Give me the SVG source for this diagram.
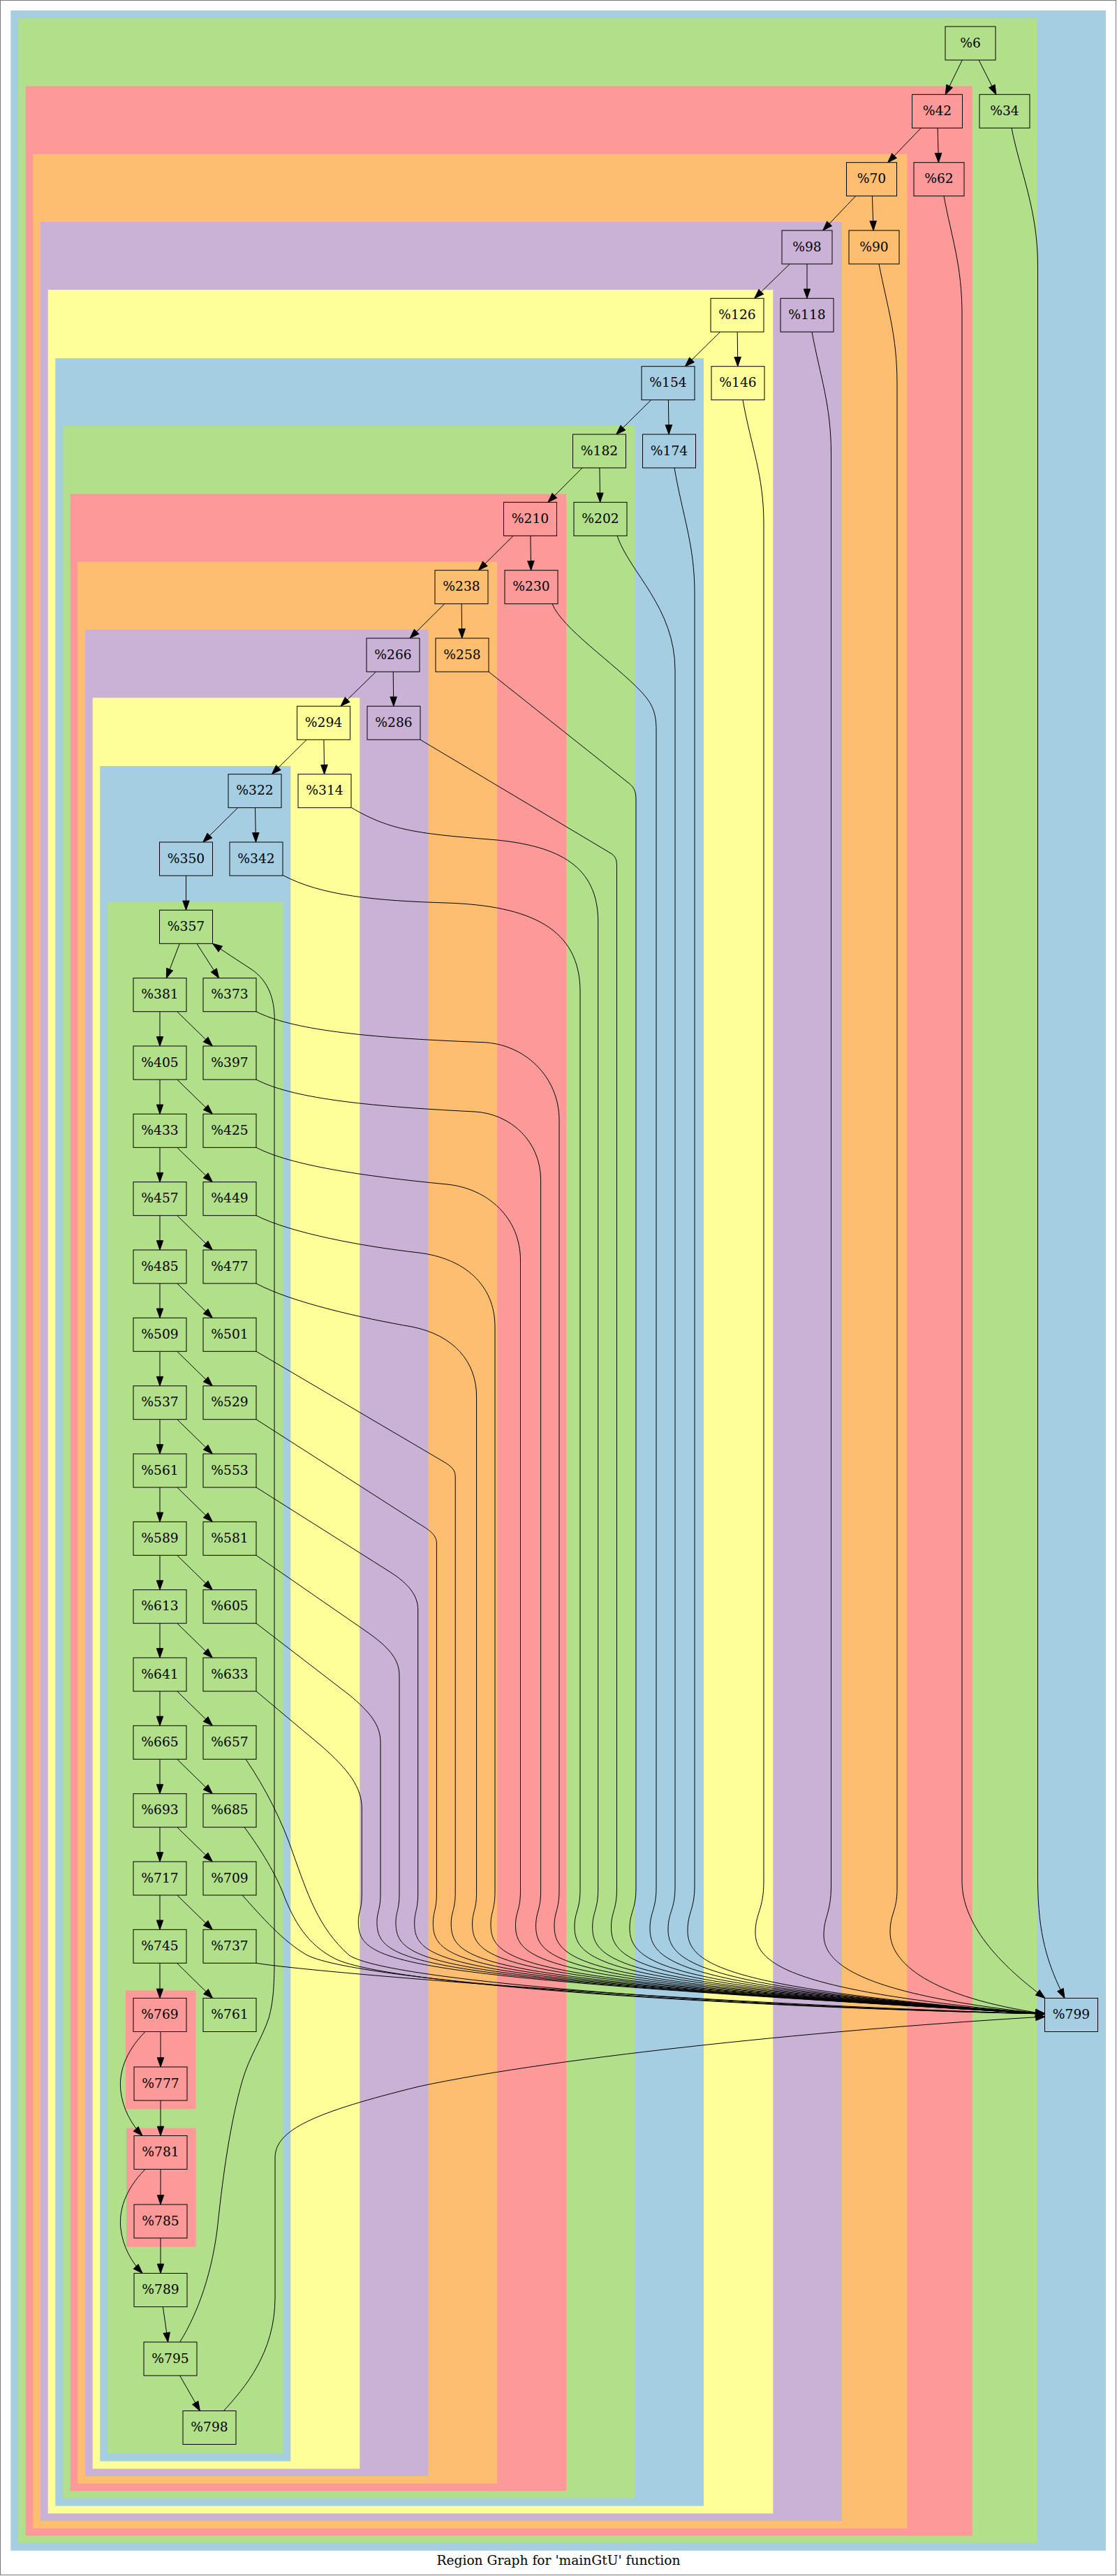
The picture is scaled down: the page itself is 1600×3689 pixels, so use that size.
<svg xmlns="http://www.w3.org/2000/svg" width="1600" height="3689" viewBox="0 0 1600 3689">
<defs>
<marker id="arr" markerUnits="userSpaceOnUse" markerWidth="16" markerHeight="12" viewBox="-1 -1 16 12" refX="13.33" refY="4.67" orient="auto">
<path d="M0,0 L13.33,4.67 L0,9.33 Z" fill="#000" stroke="#000" stroke-width="1"/>
</marker>
<style>
.cb{fill:#a6cee3}.cg{fill:#b2df8a}.cr{fill:#fb9a99}.co{fill:#fdbf6f}.cp{fill:#cab2d6}.cy{fill:#ffff99}
.n rect{stroke:#000;stroke-width:1}
.n text{font-family:"DejaVu Serif","Liberation Serif",serif;font-size:18.67px;text-anchor:middle;fill:#000}
#edges path{fill:none;stroke:#000;stroke-width:1;marker-end:url(#arr)}
.title{font-family:"DejaVu Serif","Liberation Serif",serif;font-size:18.67px;text-anchor:middle;fill:#000}
</style>
</defs>
<rect x="0" y="0" width="1600" height="3689" fill="#fff"/>
<rect x="0.5" y="0.5" width="1598" height="3687" fill="none" stroke="#777" stroke-width="1"/>
<g id="clusters">
<rect class="cb" x="15.3" y="15" width="1568.7" height="3637.7"/>
<rect class="cg" x="26" y="26" width="1460" height="3616"/>
<rect class="cr" x="36.7" y="123.3" width="1356" height="3508.1"/>
<rect class="co" x="47.3" y="220.7" width="1252" height="3400"/>
<rect class="cp" x="58" y="318" width="1148" height="3292"/>
<rect class="cy" x="68.7" y="415" width="1038.6" height="3184.4"/>
<rect class="cb" x="79.3" y="513" width="928.7" height="3075.7"/>
<rect class="cg" x="90" y="610" width="819.2" height="2968"/>
<rect class="cr" x="100.7" y="707.3" width="710.3" height="2860.1"/>
<rect class="co" x="111.3" y="804.7" width="600.9" height="2752"/>
<rect class="cp" x="122" y="901.7" width="491.5" height="2644.3"/>
<rect class="cy" x="132.7" y="999.3" width="382.6" height="2536.1"/>
<rect class="cb" x="143.3" y="1097" width="273" height="2427.7"/>
<rect class="cg" x="154" y="1291.5" width="251.6" height="2222.5"/>
<rect class="cr" x="180" y="2850.5" width="100.5" height="170"/>
<rect class="cr" x="181" y="3047.6" width="99.6" height="170"/>
</g>
<g id="edges">
<path d="M1378.3,86 L1354.2,135.3"/>
<path d="M1402.1,86 L1426.9,135.3"/>
<path d="M1319.3,183.3 L1271.7,232.7"/>
<path d="M1343.1,183.3 L1344.4,232.7"/>
<path d="M1225.7,280.7 L1178.8,330"/>
<path d="M1249.4,280.7 L1251.1,330"/>
<path d="M1131.3,378 L1080.7,427.3"/>
<path d="M1156,378 L1156,427.3"/>
<path d="M1031.6,475.3 L981.4,524.7"/>
<path d="M1056.2,475.3 L1056.8,524.7"/>
<path d="M932.7,572.7 L882.8,622"/>
<path d="M957.4,572.7 L958.1,622"/>
<path d="M834.1,670 L784.9,719.3"/>
<path d="M858.9,670 L859.6,719.3"/>
<path d="M735.2,767.3 L685.3,816.7"/>
<path d="M759.9,767.3 L760.6,816.7"/>
<path d="M636.8,864.7 L587.2,914"/>
<path d="M661.2,864.7 L661.8,914"/>
<path d="M538.5,962 L488,1011.3"/>
<path d="M563.2,962 L563.8,1011.3"/>
<path d="M439.2,1059.3 L389.3,1108.7"/>
<path d="M463.9,1059.3 L464.6,1108.7"/>
<path d="M340.7,1156.7 L290.8,1206"/>
<path d="M365.5,1156.7 L366.5,1206"/>
<path d="M266.5,1254 L266.5,1303.3"/>
<path d="M257.3,1351.3 L238.3,1400.7"/>
<path d="M281.9,1351.3 L313.6,1400.7"/>
<path d="M229,1448.7 L229,1498"/><path d="M253.7,1448.7 L304.3,1498"/>
<path d="M229,1546 L229,1595.3"/><path d="M253.7,1546 L304.3,1595.3"/>
<path d="M229,1643.3 L229,1692.7"/><path d="M253.7,1643.3 L304.3,1692.7"/>
<path d="M229,1740.7 L229,1790"/><path d="M253.7,1740.7 L304.3,1790"/>
<path d="M229,1838 L229,1887.3"/><path d="M253.7,1838 L304.3,1887.3"/>
<path d="M229,1935.3 L229,1984.7"/><path d="M253.7,1935.3 L304.3,1984.7"/>
<path d="M229,2032.7 L229,2082"/><path d="M253.7,2032.7 L304.3,2082"/>
<path d="M229,2130 L229,2179.3"/><path d="M253.7,2130 L304.3,2179.3"/>
<path d="M229,2227.3 L229,2276.7"/><path d="M253.7,2227.3 L304.3,2276.7"/>
<path d="M229,2324.7 L229,2374"/><path d="M253.7,2324.7 L304.3,2374"/>
<path d="M229,2422 L229,2471.3"/><path d="M253.7,2422 L304.3,2471.3"/>
<path d="M229,2519.3 L229,2568.7"/><path d="M253.7,2519.3 L304.3,2568.7"/>
<path d="M229,2616.7 L229,2666"/><path d="M253.7,2616.7 L304.3,2666"/>
<path d="M229,2714 L229,2763.3"/><path d="M253.7,2714 L304.3,2763.3"/>
<path d="M229,2811.3 L229,2861.5"/><path d="M253.4,2811.3 L304.6,2861.5"/>
<path d="M230,2909.5 L230,2960"/>
<path d="M208,2909.5 C178,2940 170,2970 173,2995 C176,3020 188,3042 204,3058.5"/>
<path d="M230,3008 L230,3058.5"/>
<path d="M230,3106.5 L230,3157"/>
<path d="M208,3106.5 C178,3137 170,3167 173,3192 C176,3217 188,3239 204,3255.5"/>
<path d="M230,3205 L230,3255.5"/>
<path d="M233.4,3303.5 L240.6,3354"/>
<path d="M257.6,3402 L286.4,3452.5"/>
<path d="M257.7,3354 C285,3310 305,3250 312,3185 C320,3110 330,3040 347,2980 C357,2945 375,2920 385,2890 C392,2865 393,2840 393,2800 L393,1470 C395,1432 385,1405 360,1388 C340,1375 320,1362 304.7,1351.3"/>
<path d="M1449,183.3 C1461,245 1486.5,300 1486.5,380 L1486.5,2694 C1487,2770 1500,2812 1525,2861.5"/>
<path d="M1352,280.7 C1363,340 1378,380 1378,450 L1378,2694 C1378,2755 1430,2812 1497,2861.5"/>
<path d="M1259,378 C1271,440 1285,480 1285,550 L1285,2705 C1285,2737 1275,2740 1275,2767 C1275,2810 1330,2860 1497,2884"/>
<path d="M1163,475.3 C1175,540 1190.5,580 1190.5,650 L1190.5,2700 C1190.5,2740 1180,2745 1180,2771 C1180,2815 1240,2857 1497,2884"/>
<path d="M1064,572.7 C1076,640 1094,680 1094,750 L1094,2694 C1094,2735 1082,2740 1082,2767 C1082,2815 1140,2853 1497,2884"/>
<path d="M966,670 C978,740 995,780 995,850 L995,2700 C995,2735 985,2738 985,2765 C985,2815 1045,2849 1497,2884"/>
<path d="M884,767.3 C902,820 967,870 967,960 L967,2702 C967,2735 957,2738 957,2763 C957,2815 1017,2848 1497,2884"/>
<path d="M791,864.7 C805,900 880,950 918,990 C934,1007 940,1020 940,1045 L940,2703 C940,2735 931,2738 931,2762 C931,2815 990,2847 1497,2884"/>
<path d="M700,962 L900,1121 C908,1127 911,1133 911,1145 L911,2704 C911,2735 902,2738 902,2761 C902,2815 961,2845 1497,2884"/>
<path d="M602,1059.3 L875,1222 C881,1226 883.5,1230 883.5,1240 L883.5,2705 C883.5,2735 875.5,2738 875.5,2760 C875.5,2815 934,2844 1497,2884"/>
<path d="M503.6,1156.7 C560,1190 600,1194 712,1203 C800,1212 856.7,1240 856.7,1320 L856.7,2705 C856.7,2735 848.7,2738 848.7,2760 C848.7,2815 907,2843 1497,2884"/>
<path d="M404.5,1253 C460,1283 540,1290 640,1293 C760,1297 831,1330 831,1420 L831,2706 C831,2735 823,2738 823,2759 C823,2815 881,2842 1497,2884"/>
<path d="M367,1448.7 C417,1474 517,1486 690,1492.6 C751,1494 801,1542 801,1604 L801,2707 C801,2735 794,2738 794,2758 C794,2815 851,2841 1497,2884"/>
<path d="M367,1546 C417,1572 517,1584 680,1592 C732,1595 774.6,1635 774.6,1690 L774.6,2708 C774.6,2735 767.6,2738 767.6,2758 C767.6,2815 825,2840 1497,2884"/>
<path d="M367,1643.3 C417,1669 517,1684 640,1696 C700,1702 745.5,1745 745.5,1805 L745.5,2708 C745.5,2735 738.5,2738 738.5,2757 C738.5,2815 796,2839 1497,2884"/>
<path d="M367,1740.7 C417,1766 520,1785 600,1794 C665,1802 709,1840 709,1900 L709,2709 C709,2735 703,2738 703,2756 C703,2815 759,2837 1497,2884"/>
<path d="M367,1838 C417,1865 520,1888 590,1900 C650,1912 682.6,1950 682.6,2000 L682.6,2710 C682.6,2735 676.6,2738 676.6,2755 C676.6,2815 733,2836 1497,2884"/>
<path d="M367,1935.3 L635,2093 C647,2100 652.2,2105 652.2,2115 L652.2,2710 C652.2,2735 646.2,2738 646.2,2755 C646.2,2815 702,2835 1497,2884"/>
<path d="M367,2032.7 L600,2182 C615,2191 625.4,2198 625.4,2210 L625.4,2711 C625.4,2735 620.4,2738 620.4,2754 C620.4,2815 675,2834 1497,2884"/>
<path d="M367,2130 L560,2252 C585,2268 598.7,2285 598.7,2305 L598.7,2711 C598.7,2735 593.7,2738 593.7,2754 C593.7,2815 649,2833 1497,2884"/>
<path d="M367,2227.3 L530,2340 C560,2362 572,2378 572,2400 L572,2712 C572,2735 567,2738 567,2753 C567,2815 622,2832 1497,2884"/>
<path d="M367,2324.7 L500,2427 C530,2452 545,2470 545,2495 L545,2712 C545,2735 540,2738 540,2752 C540,2815 595,2831 1497,2884"/>
<path d="M367,2422 L460,2500 C500,2535 518.3,2560 518.3,2590 L518.3,2712 C518.3,2735 513.3,2738 513.3,2752 C513.3,2815 568,2830 1497,2884"/>
<path d="M352,2519.3 C380,2560 405,2610 420,2655 C440,2710 455,2760 500,2800 C560,2840 1100,2875 1497,2884"/>
<path d="M350,2616.7 C375,2650 395,2685 405,2710 C420,2750 440,2785 480,2805 C560,2845 1100,2876 1497,2884"/>
<path d="M347,2714 C375,2745 405,2780 440,2800 C520,2840 1100,2876 1497,2884"/>
<path d="M367,2811.3 C450,2825 1000,2870 1497,2884"/>
<path d="M320.4,3452.5 C350,3420 394,3370 394,3290 L394,3090 C394,3050 450,3025 600,2988 C800,2945 1200,2905 1497,2888"/>
</g>
<g id="n6" class="n"><rect class="cg" x="1354" y="38" width="72" height="48"/><text x="1390" y="67.5">%6</text></g>
<g id="n42" class="n"><rect class="cr" x="1306.5" y="135.3" width="72" height="48"/><text x="1342.5" y="164.8">%42</text></g>
<g id="n34" class="n"><rect class="cg" x="1403" y="135.3" width="72" height="48"/><text x="1439" y="164.8">%34</text></g>
<g id="n70" class="n"><rect class="co" x="1212.5" y="232.7" width="72" height="48"/><text x="1248.5" y="262.2">%70</text></g>
<g id="n62" class="n"><rect class="cr" x="1309" y="232.7" width="72" height="48"/><text x="1345" y="262.2">%62</text></g>
<g id="n98" class="n"><rect class="cp" x="1120" y="330" width="72" height="48"/><text x="1156" y="359.5">%98</text></g>
<g id="n90" class="n"><rect class="co" x="1216" y="330" width="72" height="48"/><text x="1252" y="359.5">%90</text></g>
<g id="n126" class="n"><rect class="cy" x="1018" y="427.3" width="76" height="48"/><text x="1056" y="456.8">%126</text></g>
<g id="n118" class="n"><rect class="cp" x="1118" y="427.3" width="76" height="48"/><text x="1156" y="456.8">%118</text></g>
<g id="n154" class="n"><rect class="cb" x="919" y="524.7" width="76" height="48"/><text x="957" y="554.2">%154</text></g>
<g id="n146" class="n"><rect class="cy" x="1019" y="524.7" width="76" height="48"/><text x="1057" y="554.2">%146</text></g>
<g id="n182" class="n"><rect class="cg" x="820.5" y="622" width="76" height="48"/><text x="858.5" y="651.5">%182</text></g>
<g id="n174" class="n"><rect class="cb" x="920.5" y="622" width="76" height="48"/><text x="958.5" y="651.5">%174</text></g>
<g id="n210" class="n"><rect class="cr" x="721.5" y="719.3" width="76" height="48"/><text x="759.5" y="748.8">%210</text></g>
<g id="n202" class="n"><rect class="cg" x="822" y="719.3" width="76" height="48"/><text x="860" y="748.8">%202</text></g>
<g id="n238" class="n"><rect class="co" x="623" y="816.7" width="76" height="48"/><text x="661" y="846.2">%238</text></g>
<g id="n230" class="n"><rect class="cr" x="723" y="816.7" width="76" height="48"/><text x="761" y="846.2">%230</text></g>
<g id="n266" class="n"><rect class="cp" x="525" y="914" width="76" height="48"/><text x="563" y="943.5">%266</text></g>
<g id="n258" class="n"><rect class="co" x="624" y="914" width="76" height="48"/><text x="662" y="943.5">%258</text></g>
<g id="n294" class="n"><rect class="cy" x="425.5" y="1011.3" width="76" height="48"/><text x="463.5" y="1040.8">%294</text></g>
<g id="n286" class="n"><rect class="cp" x="526" y="1011.3" width="76" height="48"/><text x="564" y="1040.8">%286</text></g>
<g id="n322" class="n"><rect class="cb" x="327" y="1108.7" width="76" height="48"/><text x="365" y="1138.2">%322</text></g>
<g id="n314" class="n"><rect class="cy" x="427" y="1108.7" width="76" height="48"/><text x="465" y="1138.2">%314</text></g>
<g id="n350" class="n"><rect class="cb" x="228.5" y="1206" width="76" height="48"/><text x="266.5" y="1235.5">%350</text></g>
<g id="n342" class="n"><rect class="cb" x="329" y="1206" width="76" height="48"/><text x="367" y="1235.5">%342</text></g>
<g id="n357" class="n"><rect class="cg" x="228.5" y="1303.3" width="76" height="48"/><text x="266.5" y="1332.8">%357</text></g>
<g id="n381" class="n"><rect class="cg" x="191" y="1400.7" width="76" height="48"/><text x="229" y="1430.2">%381</text></g>
<g id="n373" class="n"><rect class="cg" x="291" y="1400.7" width="76" height="48"/><text x="329" y="1430.2">%373</text></g>
<g id="n405" class="n"><rect class="cg" x="191" y="1498" width="76" height="48"/><text x="229" y="1527.5">%405</text></g>
<g id="n397" class="n"><rect class="cg" x="291" y="1498" width="76" height="48"/><text x="329" y="1527.5">%397</text></g>
<g id="n433" class="n"><rect class="cg" x="191" y="1595.3" width="76" height="48"/><text x="229" y="1624.8">%433</text></g>
<g id="n425" class="n"><rect class="cg" x="291" y="1595.3" width="76" height="48"/><text x="329" y="1624.8">%425</text></g>
<g id="n457" class="n"><rect class="cg" x="191" y="1692.7" width="76" height="48"/><text x="229" y="1722.2">%457</text></g>
<g id="n449" class="n"><rect class="cg" x="291" y="1692.7" width="76" height="48"/><text x="329" y="1722.2">%449</text></g>
<g id="n485" class="n"><rect class="cg" x="191" y="1790" width="76" height="48"/><text x="229" y="1819.5">%485</text></g>
<g id="n477" class="n"><rect class="cg" x="291" y="1790" width="76" height="48"/><text x="329" y="1819.5">%477</text></g>
<g id="n509" class="n"><rect class="cg" x="191" y="1887.3" width="76" height="48"/><text x="229" y="1916.8">%509</text></g>
<g id="n501" class="n"><rect class="cg" x="291" y="1887.3" width="76" height="48"/><text x="329" y="1916.8">%501</text></g>
<g id="n537" class="n"><rect class="cg" x="191" y="1984.7" width="76" height="48"/><text x="229" y="2014.2">%537</text></g>
<g id="n529" class="n"><rect class="cg" x="291" y="1984.7" width="76" height="48"/><text x="329" y="2014.2">%529</text></g>
<g id="n561" class="n"><rect class="cg" x="191" y="2082" width="76" height="48"/><text x="229" y="2111.5">%561</text></g>
<g id="n553" class="n"><rect class="cg" x="291" y="2082" width="76" height="48"/><text x="329" y="2111.5">%553</text></g>
<g id="n589" class="n"><rect class="cg" x="191" y="2179.3" width="76" height="48"/><text x="229" y="2208.8">%589</text></g>
<g id="n581" class="n"><rect class="cg" x="291" y="2179.3" width="76" height="48"/><text x="329" y="2208.8">%581</text></g>
<g id="n613" class="n"><rect class="cg" x="191" y="2276.7" width="76" height="48"/><text x="229" y="2306.2">%613</text></g>
<g id="n605" class="n"><rect class="cg" x="291" y="2276.7" width="76" height="48"/><text x="329" y="2306.2">%605</text></g>
<g id="n641" class="n"><rect class="cg" x="191" y="2374" width="76" height="48"/><text x="229" y="2403.5">%641</text></g>
<g id="n633" class="n"><rect class="cg" x="291" y="2374" width="76" height="48"/><text x="329" y="2403.5">%633</text></g>
<g id="n665" class="n"><rect class="cg" x="191" y="2471.3" width="76" height="48"/><text x="229" y="2500.8">%665</text></g>
<g id="n657" class="n"><rect class="cg" x="291" y="2471.3" width="76" height="48"/><text x="329" y="2500.8">%657</text></g>
<g id="n693" class="n"><rect class="cg" x="191" y="2568.7" width="76" height="48"/><text x="229" y="2598.2">%693</text></g>
<g id="n685" class="n"><rect class="cg" x="291" y="2568.7" width="76" height="48"/><text x="329" y="2598.2">%685</text></g>
<g id="n717" class="n"><rect class="cg" x="191" y="2666" width="76" height="48"/><text x="229" y="2695.5">%717</text></g>
<g id="n709" class="n"><rect class="cg" x="291" y="2666" width="76" height="48"/><text x="329" y="2695.5">%709</text></g>
<g id="n745" class="n"><rect class="cg" x="191" y="2763.3" width="76" height="48"/><text x="229" y="2792.8">%745</text></g>
<g id="n737" class="n"><rect class="cg" x="291" y="2763.3" width="76" height="48"/><text x="329" y="2792.8">%737</text></g>
<g id="n769" class="n"><rect class="cr" x="191" y="2861.5" width="76" height="48"/><text x="229" y="2891">%769</text></g>
<g id="n761" class="n"><rect class="cg" x="291" y="2861.5" width="76" height="48"/><text x="329" y="2891">%761</text></g>
<g id="n777" class="n"><rect class="cr" x="192" y="2960" width="76" height="48"/><text x="230" y="2989.5">%777</text></g>
<g id="n781" class="n"><rect class="cr" x="192" y="3058.5" width="76" height="48"/><text x="230" y="3088">%781</text></g>
<g id="n785" class="n"><rect class="cr" x="192" y="3157" width="76" height="48"/><text x="230" y="3186.5">%785</text></g>
<g id="n789" class="n"><rect class="cg" x="192" y="3255.5" width="76" height="48"/><text x="230" y="3285">%789</text></g>
<g id="n795" class="n"><rect class="cg" x="206" y="3354" width="76" height="48"/><text x="244" y="3383.5">%795</text></g>
<g id="n798" class="n"><rect class="cg" x="262" y="3452.5" width="76" height="48"/><text x="300" y="3482">%798</text></g>
<g id="n799" class="n"><rect class="cb" x="1496.5" y="2861.5" width="76" height="48"/><text x="1534.5" y="2891">%799</text></g>
<text class="title" x="800" y="3673">Region Graph for 'mainGtU' function</text>
</svg>
